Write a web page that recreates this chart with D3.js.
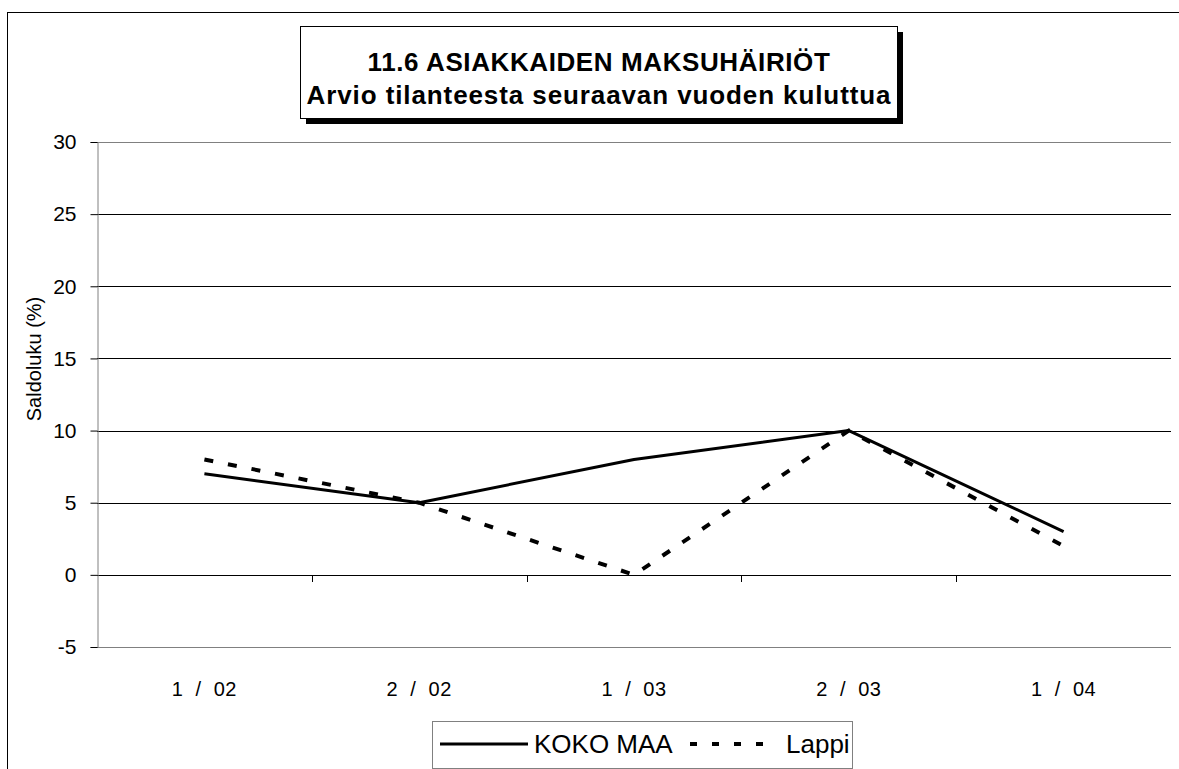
<!DOCTYPE html>
<html>
<head>
<meta charset="utf-8">
<script src="https://cdn.jsdelivr.net/npm/d3@7"></script>
<style>
  body { margin: 0; background: #fff; }
  svg { display: block; font-family: "Liberation Sans", Arial, sans-serif; }
</style>
</head>
<body>
<div id="chart"></div>
<script>
const width = 1179;
const height = 769;

const categories = ['1 / 02', '2 / 02', '1 / 03', '2 / 03', '1 / 04'];
const kokoMaa = [7, 5, 8, 10, 3];
const lappi = [8, 5, 0, 10, 2];
const yTicks = [-5, 0, 5, 10, 15, 20, 25, 30];

const plot = { left: 97, right: 1171, top: 142, bottom: 647 };

const svg = d3.select('#chart')
    .append('svg')
    .attr('width', width)
    .attr('height', height)

// outer frame (runs off the right and bottom edge)
svg.append('rect')
    .attr('x', 7.5)
    .attr('y', 12.5)
    .attr('width', 1300)
    .attr('height', 900)
    .attr('fill', 'none')
    .attr('stroke', 'black')

const x = d3.scaleBand()
    .domain(categories)
    .range([plot.left, plot.right])

const y = d3.scaleLinear()
    .domain([-5, 30])
    .range([plot.bottom, plot.top])

// gridlines
svg.append('g')
    .selectAll('line')
    .data(yTicks.filter((d) => d > -5))
    .enter()
    .append('line')
    .attr('x1', plot.left)
    .attr('x2', plot.right)
    .attr('y1', (d) => Math.round(y(d)) + 0.5)
    .attr('y2', (d) => Math.round(y(d)) + 0.5)
    .attr('stroke', (d) => d === 30 ? '#808080' : 'black')

// bottom of plot area
svg.append('line')
    .attr('x1', plot.left)
    .attr('x2', plot.right)
    .attr('y1', plot.bottom + 0.5)
    .attr('y2', plot.bottom + 0.5)
    .attr('stroke', '#808080')

// y axis
const yAxis = svg.append('g')
    .attr('transform', 'translate(' + (plot.left + 0.5) + ',0)')
    .call(d3.axisLeft(y).tickValues(yTicks).tickSize(7).tickPadding(14).tickFormat((d) => String(d)))

yAxis.select('.domain').attr('stroke', '#808080')
yAxis.selectAll('.tick line').attr('stroke', 'black')
yAxis.selectAll('text')
    .attr('font-size', 21)
    .attr('fill', 'black')
    .attr('font-family', '"Liberation Sans", Arial, sans-serif')

// category ticks on the zero line
svg.append('g')
    .selectAll('line')
    .data(categories.slice(1))
    .enter()
    .append('line')
    .attr('x1', (d) => Math.round(x(d)) + 0.5)
    .attr('x2', (d) => Math.round(x(d)) + 0.5)
    .attr('y1', Math.round(y(0)))
    .attr('y2', Math.round(y(0)) + 7)
    .attr('stroke', 'black')

svg.append('g')
    .selectAll('text')
    .data(categories)
    .enter()
    .append('text')
    .attr('x', (d) => x(d) + x.bandwidth() / 2)
    .attr('y', 696)
    .attr('text-anchor', 'middle')
    .attr('font-size', 20)
    .attr('letter-spacing', 0.5)
    .text((d) => d.replace(/ /g, '\u00a0\u00a0'))

// y axis title
svg.append('text')
    .attr('transform', 'translate(41,359) rotate(-90)')
    .attr('text-anchor', 'middle')
    .attr('font-size', 20)
    .text('Saldoluku (%)')

// series
const line = d3.line()
    .x((d, i) => x(categories[i]) + x.bandwidth() / 2)
    .y((d) => y(d))

svg.append('path')
    .datum(lappi)
    .attr('d', line)
    .attr('fill', 'none')
    .attr('stroke', 'black')
    .attr('stroke-width', 4)
    .attr('stroke-dasharray', '9,15')

svg.append('path')
    .datum(kokoMaa)
    .attr('d', line)
    .attr('fill', 'none')
    .attr('stroke', 'black')
    .attr('stroke-width', 3)
    .attr('stroke-linejoin', 'round')

// title box with shadow
svg.append('rect')
    .attr('x', 306)
    .attr('y', 32)
    .attr('width', 597)
    .attr('height', 92)
    .attr('fill', 'black')

svg.append('rect')
    .attr('x', 300.5)
    .attr('y', 26.5)
    .attr('width', 597)
    .attr('height', 92)
    .attr('fill', 'white')
    .attr('stroke', 'black')

svg.append('text')
    .attr('x', 599)
    .attr('y', 71)
    .attr('text-anchor', 'middle')
    .attr('font-size', 26)
    .attr('font-weight', 'bold')
    .attr('letter-spacing', 0.6)
    .text('11.6 ASIAKKAIDEN MAKSUHÄIRIÖT')

svg.append('text')
    .attr('x', 599)
    .attr('y', 104)
    .attr('text-anchor', 'middle')
    .attr('font-size', 26)
    .attr('font-weight', 'bold')
    .attr('letter-spacing', 0.9)
    .text('Arvio tilanteesta seuraavan vuoden kuluttua')

// legend
const legend = svg.append('g')

legend.append('rect')
    .attr('x', 432.5)
    .attr('y', 721.5)
    .attr('width', 420)
    .attr('height', 47)
    .attr('fill', 'white')
    .attr('stroke', '#808080')

legend.append('line')
    .attr('x1', 440).attr('x2', 528)
    .attr('y1', 744).attr('y2', 744)
    .attr('stroke', 'black')
    .attr('stroke-width', 3)

legend.append('text')
    .attr('x', 534)
    .attr('y', 753)
    .attr('font-size', 26)
    .text('KOKO MAA')

legend.append('line')
    .attr('x1', 690).attr('x2', 764)
    .attr('y1', 744).attr('y2', 744)
    .attr('stroke', 'black')
    .attr('stroke-width', 4)
    .attr('stroke-dasharray', '7,15')

legend.append('text')
    .attr('x', 786)
    .attr('y', 753)
    .attr('font-size', 26)
    .text('Lappi')
</script>
</body>
</html>
